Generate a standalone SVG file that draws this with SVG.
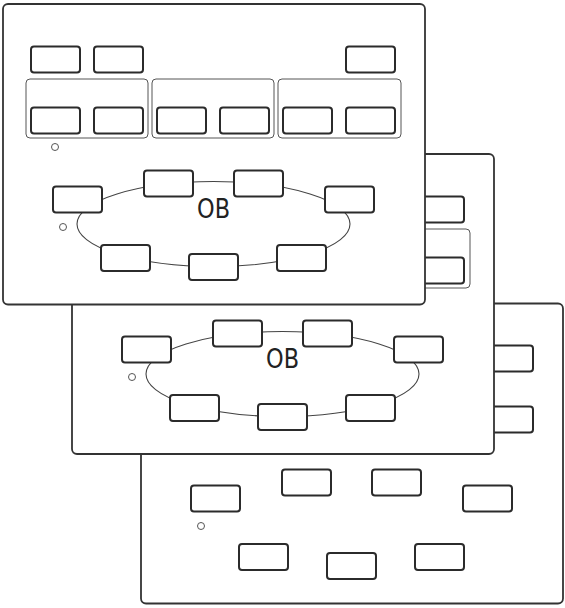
<svg xmlns="http://www.w3.org/2000/svg" width="565" height="608" viewBox="0 0 565 608">
<style>
.panel{fill:#fff;stroke:#333;stroke-width:1.8}
.box{fill:#fff;stroke:#2b2b2b;stroke-width:2}
.grp{fill:none;stroke:#555;stroke-width:1}
.ring{fill:none;stroke:#444;stroke-width:1.1}
.dot{fill:#fff;stroke:#555;stroke-width:1}
.lbl{font-family:"DejaVu Sans",sans-serif;font-size:26.5px;fill:#222;text-anchor:middle}
</style>
<rect width="565" height="608" fill="#fff"/>

<!-- Panel 3 (back) -->
<g id="panel3" transform="translate(138,299)">
  <rect class="panel" x="3" y="4.5" width="422" height="300" rx="5"/>
  <g id="p3-row1"><rect class="box" x="31" y="46.5" width="49" height="26" rx="3"/><rect class="box" x="94" y="46.5" width="49" height="26" rx="3"/><rect class="box" x="346" y="46.5" width="49" height="26" rx="3"/></g>
  <g id="p3-row2"><rect class="box" x="31" y="107.5" width="49" height="26" rx="3"/><rect class="box" x="94" y="107.5" width="49" height="26" rx="3"/><rect class="box" x="157" y="107.5" width="49" height="26" rx="3"/><rect class="box" x="220" y="107.5" width="49" height="26" rx="3"/><rect class="box" x="283" y="107.5" width="49" height="26" rx="3"/><rect class="box" x="346" y="107.5" width="49" height="26" rx="3"/></g>
  <circle class="dot" cx="55" cy="147" r="3.5"/>
  <circle class="dot" cx="63" cy="227" r="3.5"/>
  <g id="p3-n1"><rect class="box" x="53" y="186.5" width="49" height="26" rx="3"/></g>
  <g id="p3-n2"><rect class="box" x="144" y="170.5" width="49" height="26" rx="3"/></g>
  <g id="p3-n3"><rect class="box" x="234" y="170.5" width="49" height="26" rx="3"/></g>
  <g id="p3-n4"><rect class="box" x="325" y="186.5" width="49" height="26" rx="3"/></g>
  <g id="p3-n5"><rect class="box" x="277" y="245" width="49" height="26" rx="3"/></g>
  <g id="p3-n6"><rect class="box" x="189" y="254" width="49" height="26" rx="3"/></g>
  <g id="p3-n7"><rect class="box" x="101" y="245" width="49" height="26" rx="3"/></g>
</g>

<!-- Panel 2 (middle) -->
<g id="panel2" transform="translate(69,150)">
  <rect class="panel" x="3" y="4" width="422" height="300" rx="5"/>
  <g id="p2-row1"><rect class="box" x="31" y="46.5" width="49" height="26" rx="3"/><rect class="box" x="94" y="46.5" width="49" height="26" rx="3"/><rect class="box" x="346" y="46.5" width="49" height="26" rx="3"/></g>
  <g id="p2-groups"><rect class="grp" x="26" y="79" width="122" height="59" rx="4"/><rect class="grp" x="152" y="79" width="122" height="59" rx="4"/><rect class="grp" x="278" y="79" width="123" height="59" rx="4"/></g>
  <g id="p2-row2"><rect class="box" x="31" y="107.5" width="49" height="26" rx="3"/><rect class="box" x="94" y="107.5" width="49" height="26" rx="3"/><rect class="box" x="157" y="107.5" width="49" height="26" rx="3"/><rect class="box" x="220" y="107.5" width="49" height="26" rx="3"/><rect class="box" x="283" y="107.5" width="49" height="26" rx="3"/><rect class="box" x="346" y="107.5" width="49" height="26" rx="3"/></g>
  <circle class="dot" cx="55" cy="147" r="3.5"/>
  <circle class="dot" cx="63" cy="227" r="3.5"/>
  <g id="p2-connectors"><ellipse class="ring" cx="213.5" cy="224" rx="136.5" ry="42.5"/></g>
  <text class="lbl" x="213.5" y="218" textLength="33" lengthAdjust="spacingAndGlyphs">OB</text>
  <g id="p2-n1"><rect class="box" x="53" y="186.5" width="49" height="26" rx="3"/></g>
  <g id="p2-n2"><rect class="box" x="144" y="170.5" width="49" height="26" rx="3"/></g>
  <g id="p2-n3"><rect class="box" x="234" y="170.5" width="49" height="26" rx="3"/></g>
  <g id="p2-n4"><rect class="box" x="325" y="186.5" width="49" height="26" rx="3"/></g>
  <g id="p2-n5"><rect class="box" x="277" y="245" width="49" height="26" rx="3"/></g>
  <g id="p2-n6"><rect class="box" x="189" y="254" width="49" height="26" rx="3"/></g>
  <g id="p2-n7"><rect class="box" x="101" y="245" width="49" height="26" rx="3"/></g>
</g>

<!-- Panel 1 (front) -->
<g id="panel1">
  <rect class="panel" x="3" y="4" width="422" height="300.5" rx="5"/>
  <g id="p1-row1"><rect class="box" x="31" y="46.5" width="49" height="26" rx="3"/><rect class="box" x="94" y="46.5" width="49" height="26" rx="3"/><rect class="box" x="346" y="46.5" width="49" height="26" rx="3"/></g>
  <g id="p1-groups"><rect class="grp" x="26" y="79" width="122" height="59" rx="4"/><rect class="grp" x="152" y="79" width="122" height="59" rx="4"/><rect class="grp" x="278" y="79" width="123" height="59" rx="4"/></g>
  <g id="p1-row2"><rect class="box" x="31" y="107.5" width="49" height="26" rx="3"/><rect class="box" x="94" y="107.5" width="49" height="26" rx="3"/><rect class="box" x="157" y="107.5" width="49" height="26" rx="3"/><rect class="box" x="220" y="107.5" width="49" height="26" rx="3"/><rect class="box" x="283" y="107.5" width="49" height="26" rx="3"/><rect class="box" x="346" y="107.5" width="49" height="26" rx="3"/></g>
  <circle class="dot" cx="55" cy="147" r="3.5"/>
  <circle class="dot" cx="63" cy="227" r="3.5"/>
  <g id="p1-connectors"><ellipse class="ring" cx="213.5" cy="224" rx="136.5" ry="42.5"/></g>
  <text class="lbl" x="213.5" y="218" textLength="33" lengthAdjust="spacingAndGlyphs">OB</text>
  <g id="p1-n1"><rect class="box" x="53" y="186.5" width="49" height="26" rx="3"/></g>
  <g id="p1-n2"><rect class="box" x="144" y="170.5" width="49" height="26" rx="3"/></g>
  <g id="p1-n3"><rect class="box" x="234" y="170.5" width="49" height="26" rx="3"/></g>
  <g id="p1-n4"><rect class="box" x="325" y="186.5" width="49" height="26" rx="3"/></g>
  <g id="p1-n5"><rect class="box" x="277" y="245" width="49" height="26" rx="3"/></g>
  <g id="p1-n6"><rect class="box" x="189" y="254" width="49" height="26" rx="3"/></g>
  <g id="p1-n7"><rect class="box" x="101" y="245" width="49" height="26" rx="3"/></g>
</g>
</svg>
